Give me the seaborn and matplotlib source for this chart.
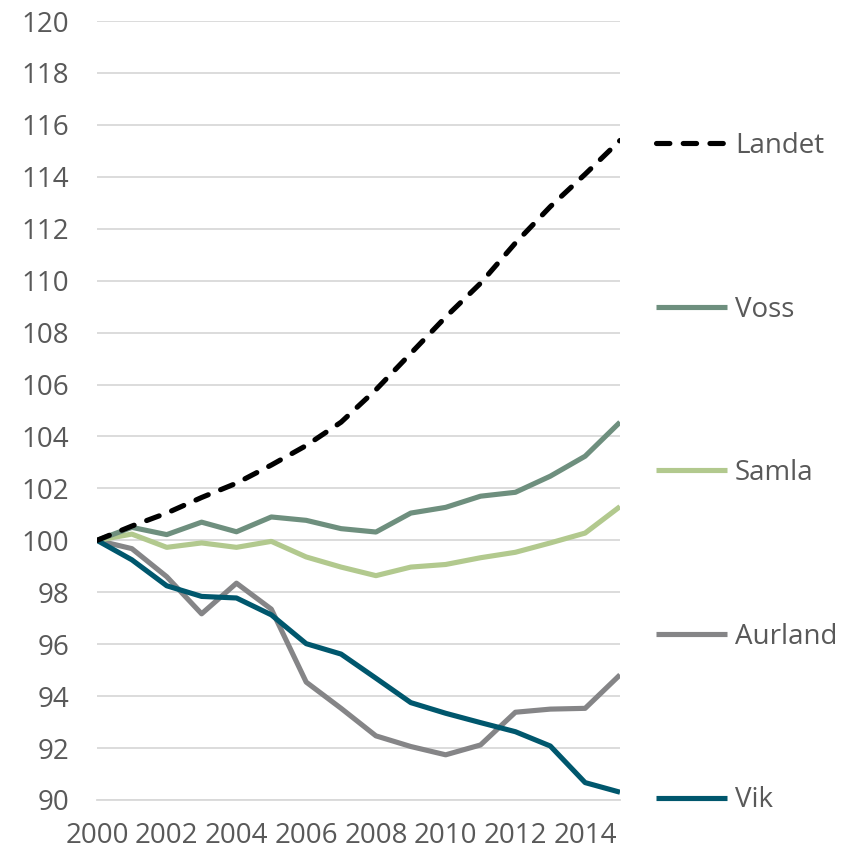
import pandas as pd
import matplotlib
matplotlib.use("Agg")
import matplotlib.pyplot as plt
import seaborn as sns

# Index (2000 = 100)
years = list(range(2000, 2016))
landet = [100.0, 100.55, 101.05, 101.65, 102.2, 102.9, 103.65, 104.55, 105.8, 107.2, 108.6, 109.9, 111.45, 112.85, 114.1, 115.4]
voss = [100.0, 100.5, 100.22, 100.7, 100.33, 100.9, 100.77, 100.45, 100.32, 101.05, 101.27, 101.7, 101.85, 102.47, 103.24, 104.55]
samla = [100.0, 100.24, 99.73, 99.9, 99.73, 99.96, 99.36, 98.97, 98.64, 98.97, 99.07, 99.33, 99.54, 99.9, 100.28, 101.3]
aurland = [100.0, 99.68, 98.6, 97.17, 98.35, 97.35, 94.54, 93.53, 92.47, 92.06, 91.74, 92.12, 93.38, 93.5, 93.53, 94.82]
vik = [100.0, 99.25, 98.25, 97.84, 97.78, 97.13, 96.02, 95.62, 94.69, 93.75, 93.34, 92.98, 92.63, 92.08, 90.67, 90.3]

series = {"Landet": landet, "Voss": voss, "Samla": samla, "Aurland": aurland, "Vik": vik}
colors = {"Landet": "#000000", "Voss": "#6e8f7e", "Samla": "#b2c98e", "Aurland": "#858587", "Vik": "#00576d"}
legend_order = ["Landet", "Voss", "Samla", "Aurland", "Vik"]
draw_order = ["Aurland", "Samla", "Voss", "Vik", "Landet"]

rows = []
for name, vals in series.items():
    for y, v in zip(years, vals):
        rows.append({"year": y, "value": v, "serie": name})
df = pd.DataFrame(rows)

sns.set_style("white")
plt.rcParams["font.family"] = ["Open Sans", "DejaVu Sans"]
text_color = "#595959"

fig = plt.figure(figsize=(8.48, 8.56), dpi=100)
ax = fig.add_axes([97 / 848, 56 / 856, 523 / 848, 779 / 856])

handles = {}
for name in draw_order:
    sub = df[df["serie"] == name]
    sns.lineplot(data=sub, x="year", y="value", ax=ax, color=colors[name], linewidth=3.7, label=name)
    line = ax.get_lines()[-1]
    if name == "Landet":
        line.set_dashes((2.6, 2.6))
        line.set_dash_capstyle("round")
    line.set_solid_capstyle("butt")
    handles[name] = line

ax.set_xlim(2000, 2015)
ax.set_ylim(90, 120)
ax.set_yticks(range(90, 121, 2))
ax.set_xticks(years, minor=False)
ax.set_xticklabels([str(y) if y % 2 == 0 else "" for y in years])
ax.grid(axis="y", color="#d9d9d9", linewidth=1.3)
ax.set_axisbelow(True)
for s in ["top", "right", "left"]:
    ax.spines[s].set_visible(False)
ax.spines["bottom"].set_color("#d9d9d9")
ax.spines["bottom"].set_linewidth(1.3)
ax.tick_params(axis="x", direction="inout", length=14, width=1.3, color="#d9d9d9",
               labelsize=20, labelcolor=text_color, pad=9)
ax.tick_params(axis="y", length=0, labelsize=20, labelcolor=text_color, pad=20)
ax.set_xlabel("")
ax.set_ylabel("")

leg = ax.legend([handles[n] for n in legend_order], legend_order,
                loc="upper left", bbox_to_anchor=(666 / 848 - 0.012, 1 - 132 / 856),
                bbox_transform=fig.transFigure, frameon=False, fontsize=20,
                handlelength=2.55, handletextpad=0.3, labelspacing=4.88,
                borderaxespad=0, borderpad=0)
for t in leg.get_texts():
    t.set_color(text_color)

fig.savefig("out.png", dpi=100)
